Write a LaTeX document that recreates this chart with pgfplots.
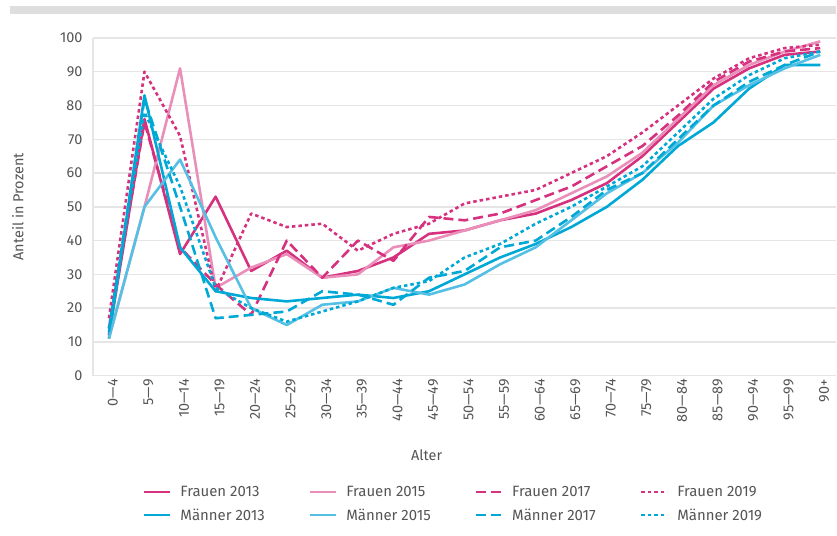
\documentclass[border=0pt]{standalone}
\usepackage{fontspec}
\setmainfont{Fira Sans}
\usepackage{pgfplots}
\pgfplotsset{compat=1.18}
\usepackage{pgfplotstable}
\definecolor{fdark}{RGB}{214,49,127}
\definecolor{flight}{RGB}{233,143,185}
\definecolor{mdark}{RGB}{0,168,214}
\definecolor{mlight}{RGB}{85,192,228}
\definecolor{gridgray}{RGB}{229,229,229}
\definecolor{bargray}{RGB}{222,222,222}
\definecolor{txtgray}{RGB}{85,85,85}

\pgfplotstableread{
x F13 F15 F17 F19 M13 M15 M17 M19
0 12 11 14 17 11 11 13 14
1 76 50 75 90 83 50 82 78
2 36 91 38 71 38 64 50 56
3 53 26 27 25 25 41 17 26
4 31 32 18 48 23 20 18 20
5 37 36 40 44 22 15 19 16
6 29 29 29 45 23 21 25 19
7 31 30 40 37 24 22 24 22
8 35 38 34 42 23 26 21 26
9 42 40 47 45 25 24 29 28
10 43 43 46 51 30 27 31 35
11 46 46 48 53 35 33 38 39
12 48 49 52 55 39 38 40 45
13 52 54 56 60 44 46 47 50
14 57 59 62 65 50 54 55 56
15 65 66 68 72 58 60 60 62
16 75 76 77 80 68 69 70 72
17 85 86 87 88 75 80 80 82
18 91 92 93 94 85 86 87 89
19 95 96 96 97 92 91 92 94
20 96 99 97 98 92 95 96 96
}\data

\begin{document}
\begin{tikzpicture}
\path (0,0) rectangle (837bp,536bp);
\fill[bargray] (10bp,522bp) rectangle (837bp,530bp);
\begin{axis}[
  at={(93bp,160bp)}, anchor=south west,
  scale only axis, width=744bp, height=338bp,
  xmin=-0.45, xmax=20.45, ymin=0, ymax=100,
  xtick={0,...,20},
  xticklabels={0—4,5—9,10—14,15—19,20—24,25—29,30—34,35—39,40—44,45—49,50—54,55—59,60—64,65—69,70—74,75—79,80—84,85—89,90—94,95—99,90+},
  ytick={0,10,...,100},
  axis x line*=bottom, axis y line*=left,
  axis line style={gridgray, line width=1.5bp, -},
  ymajorgrids, grid style={gridgray, line width=1.5bp},
  major tick length=0pt,
  /pgf/number format/assume math mode=true,
  tick label style={font=\fontsize{14.5}{16}\selectfont, text=txtgray},
  xticklabel style={rotate=90, anchor=east, yshift=-4bp},
  yticklabel style={xshift=-7bp},
  xlabel={Alter}, ylabel={Anteil in Prozent},
  label style={font=\fontsize{14.5}{16}\selectfont, text=txtgray},
  xlabel style={at={(axis description cs:0.449,-0.234)}, anchor=center},
  ylabel style={at={(axis description cs:-0.101,0.5)}, anchor=center},
  legend columns=4,
  legend cell align=left,
  legend style={at={(axis description cs:0.067,-0.32)}, anchor=north west, draw=none, fill=none,
    font=\fontsize{15}{16}\selectfont, text=txtgray, inner sep=0pt,
    /tikz/every odd column/.append style={column sep=7bp},
    /tikz/every even column/.append style={column sep=42bp},
    row sep=7bp},
  legend image code/.code={\draw[#1] (0bp,0bp) -- (26bp,0bp);},
  every axis plot/.append style={line width=2.6bp, line join=round},
]
\addplot[fdark] table[x=x,y=F13] {\data};
\addlegendentry{Frauen 2013}
\addplot[flight] table[x=x,y=F15] {\data};
\addlegendentry{Frauen 2015}
\addplot[fdark, dash pattern=on 10bp off 5bp] table[x=x,y=F17] {\data};
\addlegendentry{Frauen 2017}
\addplot[fdark, dash pattern=on 3.5bp off 3bp] table[x=x,y=F19] {\data};
\addlegendentry{Frauen 2019}
\addplot[mdark] table[x=x,y=M13] {\data};
\addlegendentry{Männer 2013}
\addplot[mlight] table[x=x,y=M15] {\data};
\addlegendentry{Männer 2015}
\addplot[mdark, dash pattern=on 10bp off 5bp] table[x=x,y=M17] {\data};
\addlegendentry{Männer 2017}
\addplot[mdark, dash pattern=on 3.5bp off 3bp] table[x=x,y=M19] {\data};
\addlegendentry{Männer 2019}
\end{axis}
\end{tikzpicture}
\end{document}
